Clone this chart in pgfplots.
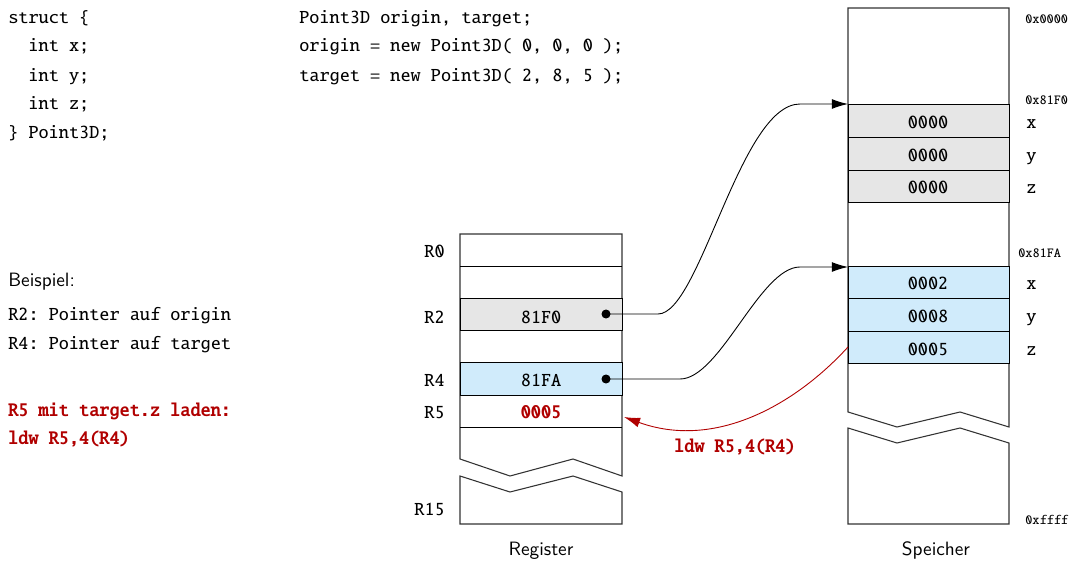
\documentclass[border=0pt]{standalone}
\usepackage[T1,TU]{fontenc}
\usepackage{pgfplots}
\pgfplotsset{compat=1.18}
\usetikzlibrary{arrows.meta}

\newcommand\tx{\fontencoding{T1}\fontfamily{txtt}\selectfont}
\newcommand\addr{\fontencoding{T1}\fontfamily{txtt}\fontsize{7.6pt}{9pt}\selectfont}
\definecolor{cellgray}{HTML}{E6E6E6}
\definecolor{cellblue}{HTML}{D0EBFB}
\definecolor{ldred}{HTML}{B00000}
\definecolor{boxline}{HTML}{333333}

\begin{document}
\frenchspacing
\fontsize{10.8pt}{13pt}\selectfont
\begin{tikzpicture}
\begin{axis}[
    scale only axis, width=599.2pt, height=314.72pt,
    xmin=0, xmax=1070, ymin=0, ymax=562, y dir=reverse,
    axis lines=none, clip=false,
    boxstyle/.style={draw=boxline, line width=0.6pt, fill=white},
    rowline/.style={draw=black, line width=0.5pt},
]
\path (axis cs:0,0) (axis cs:1070,562);

% ---- register file
\addplot[boxstyle] coordinates {(460,234)(622,234)(622,476)(573,459)(510,476)(460,459)} --cycle;
\addplot[boxstyle] coordinates {(460,476)(510,492)(573,476)(622,492)(622,524)(460,524)} --cycle;
\addplot[rowline, fill=cellgray] coordinates {(460,298)(622,298)(622,330)(460,330)} --cycle;
\addplot[rowline, fill=cellblue] coordinates {(460,362)(622,362)(622,395)(460,395)} --cycle;
\addplot[rowline] coordinates {(460,266)(622,266)};
\addplot[rowline] coordinates {(460,427)(622,427)};

% ---- memory
\addplot[boxstyle] coordinates {(848,8)(1009,8)(1009,427)(960,412)(897,427)(848,412)} --cycle;
\addplot[boxstyle] coordinates {(848,428)(897,443)(960,428)(1009,443)(1009,524)(848,524)} --cycle;
\addplot[rowline, fill=cellgray] coordinates {(848,104)(1009,104)(1009,137)(848,137)} --cycle;
\addplot[rowline, fill=cellgray] coordinates {(848,137)(1009,137)(1009,170)(848,170)} --cycle;
\addplot[rowline, fill=cellgray] coordinates {(848,170)(1009,170)(1009,202)(848,202)} --cycle;
\addplot[rowline, fill=cellblue] coordinates {(848,266)(1009,266)(1009,298)(848,298)} --cycle;
\addplot[rowline, fill=cellblue] coordinates {(848,298)(1009,298)(1009,331)(848,331)} --cycle;
\addplot[rowline, fill=cellblue] coordinates {(848,331)(1009,331)(1009,363)(848,363)} --cycle;

% ---- pointer arrows
\draw[black, line width=0.5pt, -{Latex[length=9pt,width=5.5pt]}]
  (axis cs:606,314) -- (axis cs:658,314)
  .. controls (axis cs:700,314) and (axis cs:740,104) .. (axis cs:800,104)
  -- (axis cs:848,104);
\draw[black, line width=0.5pt, -{Latex[length=9pt,width=5.5pt]}]
  (axis cs:606,379) -- (axis cs:680,379)
  .. controls (axis cs:720,379) and (axis cs:760,267) .. (axis cs:800,267)
  -- (axis cs:848,267);
\draw[ldred, line width=0.5pt, -{Latex[length=9pt,width=5.5pt]}]
  (axis cs:848,347) .. controls (axis cs:795,405) and (axis cs:715,450) .. (axis cs:624,417);
\addplot[only marks, mark=*, mark size=2.3pt, black] coordinates {(606,314)(606,379)};

% ---- register texts
\node[anchor=base east, font=\tx, inner sep=0pt] at (axis cs:445,257) {R0};
\node[anchor=base east, font=\tx, inner sep=0pt] at (axis cs:445,323) {R2};
\node[anchor=base east, font=\tx, inner sep=0pt] at (axis cs:445,386) {R4};
\node[anchor=base east, font=\tx, inner sep=0pt] at (axis cs:445,418) {R5};
\node[anchor=base east, font=\tx, inner sep=0pt] at (axis cs:445,515) {R15};
\node[anchor=base, font=\tx] at (axis cs:541,323) {81F0};
\node[anchor=base, font=\tx] at (axis cs:541,386) {81FA};
\node[anchor=base, font=\tx\bfseries, text=ldred] at (axis cs:541,418) {0005};

% ---- memory texts
\node[anchor=base, font=\tx] at (axis cs:928,128) {0000};
\node[anchor=base, font=\tx] at (axis cs:928,161) {0000};
\node[anchor=base, font=\tx] at (axis cs:928,193) {0000};
\node[anchor=base, font=\tx] at (axis cs:928,289) {0002};
\node[anchor=base, font=\tx] at (axis cs:928,322) {0008};
\node[anchor=base, font=\tx] at (axis cs:928,355) {0005};
\node[anchor=base west, font=\tx, inner sep=0pt] at (axis cs:1026,128) {x};
\node[anchor=base west, font=\tx, inner sep=0pt] at (axis cs:1026,161) {y};
\node[anchor=base west, font=\tx, inner sep=0pt] at (axis cs:1026,193) {z};
\node[anchor=base west, font=\tx, inner sep=0pt] at (axis cs:1026,289) {x};
\node[anchor=base west, font=\tx, inner sep=0pt] at (axis cs:1026,322) {y};
\node[anchor=base west, font=\tx, inner sep=0pt] at (axis cs:1026,355) {z};
\node[anchor=base west, font=\addr, inner sep=0pt] at (axis cs:1025,23) {0x0000};
\node[anchor=base west, font=\addr, inner sep=0pt] at (axis cs:1025,104) {0x81F0};
\node[anchor=base west, font=\addr, inner sep=0pt] at (axis cs:1018,257) {0x81FA};
\node[anchor=base west, font=\addr, inner sep=0pt] at (axis cs:1025,524) {0xffff};

\node[anchor=base, font=\sffamily] at (axis cs:541,555) {Register};
\node[anchor=base, font=\sffamily] at (axis cs:936,555) {Speicher};
\node[anchor=base, font=\tx\bfseries, text=ldred] at (axis cs:735,452) {ldw R5,4(R4)};

% ---- code on the left
\node[anchor=base west, font=\tx, inner sep=0pt] at (axis cs:8,23) {struct \{};
\node[anchor=base west, font=\tx, inner sep=0pt] at (axis cs:8,52) {\ \ int x;};
\node[anchor=base west, font=\tx, inner sep=0pt] at (axis cs:8,81) {\ \ int y;};
\node[anchor=base west, font=\tx, inner sep=0pt] at (axis cs:8,109) {\ \ int z;};
\node[anchor=base west, font=\tx, inner sep=0pt] at (axis cs:8,138) {\} Point3D;};
\node[anchor=base west, font=\tx, inner sep=0pt] at (axis cs:299,23) {Point3D origin, target;};
\node[anchor=base west, font=\tx, inner sep=0pt] at (axis cs:299,52) {origin = new Point3D( 0, 0, 0 );};
\node[anchor=base west, font=\tx, inner sep=0pt] at (axis cs:299,81) {target = new Point3D( 2, 8, 5 );};

\node[anchor=base west, font=\sffamily, inner sep=0pt] at (axis cs:8,286) {Beispiel:};
\node[anchor=base west, font=\tx, inner sep=0pt] at (axis cs:8,320) {R2: Pointer auf origin};
\node[anchor=base west, font=\tx, inner sep=0pt] at (axis cs:8,349) {R4: Pointer auf target};
\node[anchor=base west, font=\tx\bfseries, text=ldred, inner sep=0pt] at (axis cs:8,416) {R5 mit target.z laden:};
\node[anchor=base west, font=\tx\bfseries, text=ldred, inner sep=0pt] at (axis cs:8,444) {ldw R5,4(R4)};
\end{axis}
\end{tikzpicture}
\end{document}
